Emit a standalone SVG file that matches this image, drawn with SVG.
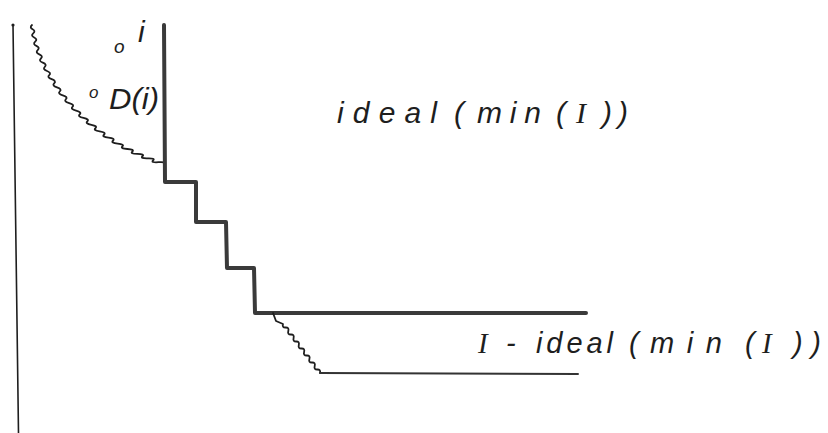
<svg xmlns="http://www.w3.org/2000/svg" width="828" height="433" viewBox="0 0 828 433">
<style>
.thin{fill:none;stroke:#1e1e1e;stroke-width:1.6;stroke-linecap:round;stroke-linejoin:round}
.thick{fill:none;stroke:#3a3a3a;stroke-width:4;stroke-linecap:round;stroke-linejoin:round}
.wavy{fill:none;stroke:#1e1e1e;stroke-width:1.8;stroke-linecap:round;stroke-linejoin:round}
.hand{font-family:"Liberation Sans","DejaVu Sans",sans-serif;font-style:italic;fill:#1e1e1e}
.cap{font-family:"Liberation Serif","DejaVu Serif",serif;font-style:italic}
</style>
<rect width="828" height="433" fill="#ffffff"/>
<g id="axes">
<path class="thin" d="M13,25 L18.5,433"/>
<circle cx="13" cy="25" r="1.6" fill="#1e1e1e"/>
</g>
<g id="connectors">
<path class="wavy" d="M32,25 Q29.3,27.5 32.6,29.2 T33.2,33.3 T34.2,37.5 T35.2,41.7 T36.4,45.9 T37.7,50.1 T39.3,54.3 T40.9,58.5 T42.8,62.7 T44.8,66.8 T47,71 T49.2,75.1 T51.7,79.2 T54.2,83.3 T57,87.3 T59.8,91.4 T62.8,95.3 T65.9,99.2 T69.2,103.1 T72.5,106.9 T76.1,110.6 T79.7,114.3 T83.5,117.9 T87.3,121.4 T91.4,124.8 T95.4,128.2 T99.7,131.4 T104,134.7 T108.5,137.7 T113,140.7 T117.7,143.6 T122.4,146.4 T127.4,149 T132.3,151.6 T137.4,153.9 T142.5,156.3 T147.8,158.3 T153.1,160.4 T158.5,162.2 T164,164"/>
<path class="thick" d="M164,25 L165,182 L196,182 L196,222 L226,222 L227,268 L254,268 L255,313 L586,313"/>
<path class="wavy" d="M273,313 L276,321 L283,324 Q281.9,327.6 285.6,327.5 T288.3,331 T290.9,334.5 T293.6,338 T296.2,341.5 T298.8,345 T301.5,348.5 T304.1,352 T306.8,355.5 T309.4,359 T312,362.5 T314.7,366 T317.3,369.5 T320,373"/>
<path class="thin" d="M320,373 L578,374" style="stroke-width:2;stroke:#333"/>
</g>
<g id="label-oi">
<text class="hand" x="114" y="53" font-size="19">o</text>
<text class="hand" x="138" y="42" font-size="30">i</text>
</g>
<g id="label-oDi">
<text class="hand" x="89" y="98" font-size="17">o</text>
<text class="hand" x="109" y="109" font-size="30" textLength="50" lengthAdjust="spacingAndGlyphs">D(i)</text>
</g>
<g id="label-ideal">
<text class="hand" y="123" font-size="30"><tspan x="337" textLength="100" lengthAdjust="spacing">ideal</tspan><tspan x="454">(</tspan><tspan x="477" textLength="64" lengthAdjust="spacing">min</tspan><tspan x="556">(</tspan><tspan class="cap" x="576">I</tspan><tspan x="602" textLength="26" lengthAdjust="spacing">))</tspan></text>
</g>
<g id="label-complement">
<text class="hand" y="353" font-size="29"><tspan class="cap" x="478">I</tspan><tspan x="506">-</tspan><tspan x="536" textLength="77" lengthAdjust="spacing">ideal</tspan><tspan x="629">(</tspan><tspan x="650" textLength="72" lengthAdjust="spacing">min</tspan><tspan x="745">(</tspan><tspan class="cap" x="762">I</tspan><tspan x="793" textLength="28" lengthAdjust="spacing">))</tspan></text>
</g>
</svg>
